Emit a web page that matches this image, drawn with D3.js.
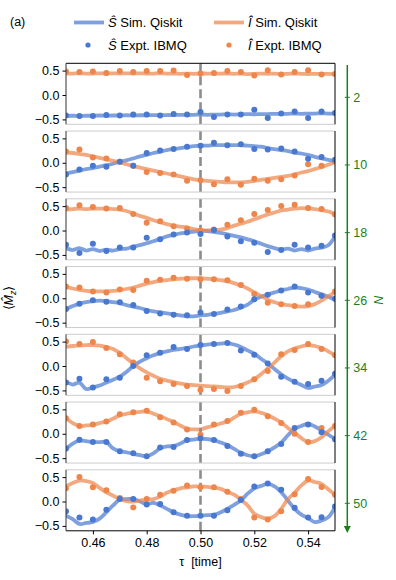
<!DOCTYPE html>
<html><head><meta charset="utf-8">
<script src="https://cdn.jsdelivr.net/npm/d3@7"></script>
<style>
html,body{margin:0;padding:0;background:#fff;}
text{font-family:"Liberation Sans",Arial,Helvetica,sans-serif;}
</style></head>
<body>
<svg id="chart" width="396" height="580"></svg>
<script>
// ---------------- DATA ----------------
const Nvals = [2, 10, 18, 26, 34, 42, 50];
const xTicks = [0.46, 0.48, 0.50, 0.52, 0.54];
const yTicks = [-0.5, 0.0, 0.5];
const markerTau = 0.50;

const tau = [0.45,0.455,0.46,0.465,0.47,0.475,0.48,0.485,0.49,0.495,0.50,
             0.505,0.51,0.515,0.52,0.525,0.53,0.535,0.54,0.545,0.55];
const simTau = [0.45,0.4525,0.455,0.4575,0.46,0.4625,0.465,0.4675,0.47,0.4725,
                0.475,0.4775,0.48,0.4825,0.485,0.4875,0.49,0.4925,0.495,0.4975,
                0.50,0.5025,0.505,0.5075,0.51,0.5125,0.515,0.5175,0.52,0.5225,
                0.525,0.5275,0.53,0.5325,0.535,0.5375,0.54,0.5425,0.545,0.5475,0.55];

// Experimental (IBMQ) points, one row per N
const exptS = [
 [-0.42,-0.43,-0.43,-0.41,-0.42,-0.4,-0.4,-0.42,-0.39,-0.4,-0.35,-0.45,-0.4,-0.4,-0.3,-0.47,-0.38,-0.34,-0.47,-0.34,-0.37],
 [-0.24,-0.14,-0.06,-0.08,0.02,-0.06,0.2,0.25,0.28,0.33,0.35,0.41,0.36,0.38,0.28,0.27,0.29,0.23,0.08,0.12,0.06],
 [-0.29,-0.46,-0.27,-0.42,-0.35,-0.35,-0.15,-0.18,-0.08,-0.04,-0.07,0.01,-0.12,-0.22,-0.25,-0.44,-0.4,-0.29,-0.35,-0.31,-0.1],
 [-0.22,-0.11,-0.04,-0.07,-0.08,-0.14,-0.26,-0.31,-0.34,-0.35,-0.29,-0.32,-0.23,-0.17,-0.02,0.07,0.16,0.24,0.12,0.05,-0.01],
 [-0.34,-0.26,-0.44,-0.27,-0.24,0.0,0.22,0.27,0.39,0.35,0.43,0.45,0.47,0.32,0.23,0.05,-0.22,-0.32,-0.37,-0.3,-0.16],
 [-0.3,-0.12,-0.17,-0.17,-0.36,-0.4,-0.46,-0.28,-0.27,-0.13,-0.09,-0.13,-0.25,-0.41,-0.46,-0.36,-0.21,0.12,0.19,0.03,-0.11],
 [-0.2,-0.33,-0.37,-0.17,0.05,0.05,-0.06,-0.05,-0.22,-0.29,-0.29,-0.29,-0.18,0.03,0.31,0.37,0.24,-0.13,-0.33,-0.32,-0.1]
];
const exptI = [
 [0.48,0.47,0.48,0.45,0.49,0.47,0.49,0.49,0.5,0.41,0.44,0.45,0.49,0.47,0.4,0.51,0.42,0.47,0.51,0.42,0.43],
 [0.23,0.27,0.11,0.09,0.02,-0.06,-0.19,-0.21,-0.24,-0.37,-0.36,-0.44,-0.34,-0.45,-0.33,-0.37,-0.34,-0.26,-0.03,-0.06,0.03],
 [0.46,0.52,0.48,0.45,0.46,0.34,0.16,0.19,0.09,0.04,0.0,0.02,0.12,0.21,0.34,0.42,0.5,0.53,0.46,0.44,0.33],
 [0.24,0.22,0.14,0.12,0.18,0.17,0.36,0.38,0.42,0.4,0.39,0.39,0.37,0.27,0.09,-0.09,-0.12,-0.16,-0.12,0.05,0.14],
 [0.5,0.45,0.49,0.37,0.24,0.07,-0.24,-0.31,-0.37,-0.41,-0.49,-0.47,-0.51,-0.41,-0.27,-0.1,0.24,0.33,0.45,0.35,0.22],
 [0.32,0.16,0.19,0.25,0.4,0.44,0.47,0.34,0.23,0.09,-0.02,0.19,0.26,0.43,0.49,0.36,0.22,0.0,-0.17,0.12,0.16],
 [0.27,0.5,0.29,0.23,0.07,-0.12,0.05,0.14,0.22,0.33,0.29,0.29,0.2,0.05,-0.33,-0.37,-0.2,0.15,0.46,0.3,0.14]
];

// Simulated (Qiskit) curves, one row per N, sampled at simTau
const simS = [
 [-0.43,-0.425,-0.43,-0.425,-0.425, -0.42,-0.425,-0.42,-0.42,-0.415, -0.42,-0.415,-0.415,-0.41,-0.415, -0.41,-0.41,-0.405,-0.41,-0.405, -0.4,-0.405,-0.4,-0.4,-0.395, -0.4,-0.395,-0.39,-0.395,-0.39, -0.39,-0.385,-0.39,-0.385,-0.38, -0.385,-0.38,-0.38,-0.375,-0.38, -0.375],
 [-0.22,-0.19,-0.16,-0.13,-0.11, -0.08,-0.05,-0.02,0.02,0.05, 0.09,0.13,0.16,0.2,0.23, 0.26,0.28,0.3,0.32,0.34, 0.35,0.35,0.36,0.36,0.36, 0.36,0.36,0.35,0.34,0.33, 0.3,0.28,0.26,0.24,0.21, 0.19,0.16,0.12,0.09,0.06, 0.03],
 [-0.36,-0.4,-0.36,-0.41,-0.38, -0.42,-0.39,-0.41,-0.38,-0.37, -0.33,-0.3,-0.26,-0.22,-0.17, -0.12,-0.09,-0.06,-0.04,-0.02, -0.01,-0.01,-0.03,-0.05,-0.08, -0.11,-0.14,-0.18,-0.22,-0.27, -0.32,-0.36,-0.39,-0.37,-0.41, -0.38,-0.41,-0.37,-0.35,-0.3, -0.12],
 [-0.22,-0.16,-0.11,-0.08,-0.06, -0.05,-0.06,-0.08,-0.1,-0.14, -0.17,-0.2,-0.24,-0.27,-0.29, -0.31,-0.33,-0.35,-0.37,-0.37, -0.35,-0.34,-0.32,-0.3,-0.27, -0.24,-0.19,-0.13,-0.03,0.03, 0.08,0.12,0.16,0.19,0.22, 0.21,0.18,0.13,0.08,0.03, -0.03],
 [-0.32,-0.38,-0.34,-0.47,-0.44, -0.4,-0.34,-0.28,-0.22,-0.12, 0.0,0.09,0.16,0.22,0.27, 0.3,0.33,0.35,0.37,0.4, 0.42,0.44,0.45,0.46,0.47, 0.44,0.39,0.32,0.25,0.15, 0.05,-0.06,-0.17,-0.26,-0.33, -0.39,-0.45,-0.42,-0.39,-0.3, -0.18],
 [-0.31,-0.2,-0.14,-0.15,-0.17, -0.17,-0.17,-0.3,-0.36,-0.38, -0.41,-0.44,-0.46,-0.4,-0.3, -0.26,-0.25,-0.2,-0.13,-0.12, -0.1,-0.11,-0.13,-0.18,-0.23, -0.31,-0.39,-0.44,-0.46,-0.42, -0.36,-0.28,-0.18,-0.03,0.1, 0.16,0.2,0.15,0.07,-0.02, -0.1],
 [-0.29,-0.36,-0.46,-0.44,-0.42, -0.35,-0.22,-0.08,0.04,0.05, 0.05,0.0,-0.05,-0.03,-0.08, -0.15,-0.22,-0.27,-0.3,-0.3, -0.29,-0.28,-0.27,-0.22,-0.15, -0.07,0.02,0.16,0.27,0.32, 0.36,0.31,0.19,0.02,-0.15, -0.27,-0.34,-0.42,-0.39,-0.32, -0.12]
];
const simI = [
 [0.44,0.44,0.445,0.44,0.44, 0.445,0.44,0.445,0.44,0.445, 0.44,0.445,0.44,0.44,0.445, 0.44,0.44,0.435,0.44,0.435, 0.44,0.44,0.435,0.44,0.44, 0.435,0.44,0.43,0.435,0.44, 0.435,0.44,0.43,0.435,0.44, 0.435,0.43,0.435,0.43,0.435, 0.43],
 [0.21,0.2,0.18,0.16,0.13, 0.1,0.07,0.04,0.01,-0.03, -0.07,-0.1,-0.13,-0.16,-0.19, -0.22,-0.25,-0.28,-0.31,-0.34, -0.36,-0.37,-0.38,-0.39,-0.4, -0.4,-0.4,-0.39,-0.37,-0.35, -0.33,-0.31,-0.29,-0.27,-0.24, -0.2,-0.17,-0.13,-0.09,-0.04, 0.01],
 [0.43,0.44,0.45,0.44,0.45, 0.45,0.45,0.44,0.43,0.4, 0.35,0.3,0.26,0.21,0.17, 0.13,0.1,0.08,0.06,0.03, 0.01,0.0,0.01,0.02,0.05, 0.1,0.14,0.18,0.23,0.28, 0.33,0.37,0.41,0.43,0.45, 0.46,0.45,0.44,0.42,0.39, 0.34],
 [0.23,0.2,0.17,0.15,0.14, 0.14,0.14,0.15,0.17,0.19, 0.22,0.26,0.3,0.33,0.36, 0.37,0.39,0.4,0.41,0.41, 0.41,0.4,0.39,0.37,0.35, 0.31,0.26,0.2,0.12,0.05, -0.03,-0.08,-0.12,-0.14,-0.16, -0.17,-0.16,-0.12,-0.05,0.04, 0.12],
 [0.39,0.41,0.42,0.43,0.43, 0.42,0.39,0.35,0.27,0.16, 0.05,-0.05,-0.13,-0.2,-0.26, -0.3,-0.33,-0.36,-0.38,-0.39, -0.4,-0.41,-0.42,-0.43,-0.44, -0.43,-0.39,-0.34,-0.27,-0.17, -0.05,0.07,0.2,0.3,0.36, 0.4,0.43,0.41,0.37,0.3, 0.22],
 [0.32,0.22,0.16,0.17,0.18, 0.22,0.25,0.31,0.38,0.41, 0.43,0.45,0.46,0.41,0.36, 0.3,0.24,0.17,0.1,0.09, 0.09,0.13,0.17,0.21,0.25, 0.33,0.41,0.44,0.46,0.43, 0.38,0.31,0.23,0.12,0.02, -0.09,-0.17,-0.15,-0.07,0.05, 0.16],
 [0.31,0.38,0.43,0.42,0.38, 0.28,0.19,0.12,0.05,0.01, 0.0,0.02,0.04,0.05,0.1, 0.18,0.23,0.27,0.29,0.31, 0.31,0.3,0.28,0.26,0.2, 0.14,0.04,-0.08,-0.25,-0.32, -0.35,-0.3,-0.15,0.05,0.18, 0.33,0.43,0.4,0.36,0.25, 0.14]
];

// ---------------- DRAW ----------------
const blue = "#4878d0", orange = "#ee854a";
const green = "#1b7f1b";
const svg = d3.select("#chart");

const left = 66, right = 335;
const panelTop0 = 63.3, panelStep = 67.75, panelH = 61;
const x = d3.scaleLinear().domain([0.45, 0.55]).range([left, right]);

Nvals.forEach((N, i) => {
  const top = panelTop0 + i * panelStep;
  const y = d3.scaleLinear().domain([-0.6, 0.65]).range([top + panelH, top]);
  const g = svg.append("g");
  const cid = "clip" + i;
  svg.append("clipPath").attr("id", cid).append("rect")
    .attr("x", left).attr("y", top).attr("width", right - left).attr("height", panelH);
  const inner = g.append("g").attr("clip-path", `url(#${cid})`);

  const line = d3.line().x(d => x(d[0])).y(d => y(d[1])).curve(d3.curveCatmullRom.alpha(0.5));
  const sS = simTau.map((t, k) => [t, simS[i][k]]).filter(d => d[1] !== undefined);
  const sI = simTau.map((t, k) => [t, simI[i][k]]).filter(d => d[1] !== undefined);
  inner.append("path").datum(sS).attr("d", line).attr("fill", "none")
    .attr("stroke", blue).attr("stroke-opacity", 0.7).attr("stroke-width", 3.8)
    .attr("stroke-linejoin", "round").attr("stroke-linecap", "round");
  inner.append("path").datum(sI).attr("d", line).attr("fill", "none")
    .attr("stroke", orange).attr("stroke-opacity", 0.7).attr("stroke-width", 3.8)
    .attr("stroke-linejoin", "round").attr("stroke-linecap", "round");

  inner.append("line").attr("x1", x(markerTau)).attr("x2", x(markerTau))
    .attr("y1", top).attr("y2", top + panelH)
    .attr("stroke", "#8c8c8c").attr("stroke-width", 2.6).attr("stroke-dasharray", "9,4");

  inner.selectAll("circle.i").data(tau.map((t, k) => [t, exptI[i][k]])).join("circle")
    .attr("class", "i").attr("cx", d => x(d[0])).attr("cy", d => y(d[1])).attr("r", 3)
    .attr("fill", orange);
  inner.selectAll("circle.s").data(tau.map((t, k) => [t, exptS[i][k]])).join("circle")
    .attr("class", "s").attr("cx", d => x(d[0])).attr("cy", d => y(d[1])).attr("r", 3)
    .attr("fill", blue);

  // frame
  const isFirst = i === 0, isLast = i === Nvals.length - 1;
  g.append("line").attr("x1", left).attr("x2", right).attr("y1", top).attr("y2", top)
    .attr("stroke", isFirst ? "#000" : "#cccccc").attr("stroke-width", 1);
  g.append("line").attr("x1", left).attr("x2", right).attr("y1", top + panelH).attr("y2", top + panelH)
    .attr("stroke", isLast ? "#000" : "#cccccc").attr("stroke-width", 1);
  g.append("line").attr("x1", left).attr("x2", left).attr("y1", top).attr("y2", top + panelH)
    .attr("stroke", "#333").attr("stroke-width", 1);
  g.append("line").attr("x1", right).attr("x2", right).attr("y1", top).attr("y2", top + panelH)
    .attr("stroke", "#000").attr("stroke-width", 1);

  // y axis
  const ya = g.append("g").attr("transform", `translate(${left},0)`)
    .call(d3.axisLeft(y).tickValues(yTicks).tickSize(3.5).tickPadding(3)
      .tickFormat(d => d3.format(".1f")(d).replace("-", "\u2212")));
  ya.select(".domain").remove();
  ya.selectAll("text").attr("font-size", 12.5).attr("fill", "#000")
    .style("font-family", '"Liberation Sans",Arial,sans-serif');
  ya.selectAll("line").attr("stroke", "#000");

  if (isLast) {
    const xa = g.append("g").attr("transform", `translate(0,${top + panelH})`)
      .call(d3.axisBottom(x).tickValues(xTicks).tickSize(3.5).tickPadding(3.5)
        .tickFormat(d3.format(".2f")));
    xa.select(".domain").remove();
    xa.selectAll("text").attr("font-size", 12.5).attr("fill", "#000")
      .style("font-family", '"Liberation Sans",Arial,sans-serif');
    xa.selectAll("line").attr("stroke", "#000");
  }
});

// x label
svg.append("text").attr("x", x(0.50)).attr("y", 566).attr("text-anchor", "middle")
  .attr("font-size", 12.5).attr("xml:space", "preserve").text("τ  [time]");

// y label
const yl = svg.append("text").attr("transform", "translate(13,298) rotate(-90)")
  .attr("text-anchor", "middle").attr("font-size", 12.5);
yl.append("tspan").text("⟨");
yl.append("tspan").attr("font-style", "italic").text("M\u0302");
yl.append("tspan").attr("font-style", "italic").attr("font-size", 9).attr("dy", 3).text("z");
yl.append("tspan").attr("dy", -3).text("⟩");

// right-hand N axis
const nScale = d3.scaleLinear().domain([2, 50]).range([97.3, 503.3]);
const ax = 347.3;
svg.append("line").attr("x1", ax).attr("x2", ax).attr("y1", 65).attr("y2", 527)
  .attr("stroke", green).attr("stroke-width", 1.5);
svg.append("path").attr("d", `M${ax - 3.5},526 L${ax + 3.5},526 L${ax},533 Z`).attr("fill", green);
Nvals.forEach(N => {
  svg.append("line").attr("x1", ax - 2.5).attr("x2", ax + 2.5)
    .attr("y1", nScale(N)).attr("y2", nScale(N)).attr("stroke", green).attr("stroke-width", 1);
  svg.append("text").attr("x", ax + 6).attr("y", nScale(N)).attr("dy", "0.36em")
    .attr("font-size", 12.5).attr("fill", green).text(N);
});
svg.append("text").attr("transform", `translate(383,${nScale(26)}) rotate(-90)`)
  .attr("text-anchor", "middle").attr("font-size", 12.5).attr("font-style", "italic")
  .attr("fill", green).text("N");

// panel label
svg.append("text").attr("x", 10).attr("y", 26).attr("font-size", 12.5).text("(a)");

// legend
const leg = svg.append("g");
const legItems = [
  {type: "line", color: blue, x: 74, y: 22.5, label: "Ŝ", rest: " Sim. Qiskit", tx: 108},
  {type: "line", color: orange, x: 214, y: 22.5, label: "Î", rest: " Sim. Qiskit", tx: 248},
  {type: "dot", color: blue, x: 88, y: 45, label: "Ŝ", rest: " Expt. IBMQ", tx: 108},
  {type: "dot", color: orange, x: 229, y: 45, label: "Î", rest: " Expt. IBMQ", tx: 248}
];
legItems.forEach(d => {
  if (d.type === "line") {
    leg.append("line").attr("x1", d.x).attr("x2", d.x + 30).attr("y1", d.y).attr("y2", d.y)
      .attr("stroke", d.color).attr("stroke-opacity", 0.7).attr("stroke-width", 3.8);
  } else {
    leg.append("circle").attr("cx", d.x).attr("cy", d.y).attr("r", 2.6).attr("fill", d.color);
  }
  const t = leg.append("text").attr("x", d.tx).attr("y", d.y + 4.5).attr("font-size", 13);
  t.append("tspan").attr("font-style", "italic").text(d.label);
  t.append("tspan").text(d.rest);
});
</script>
</body></html>
